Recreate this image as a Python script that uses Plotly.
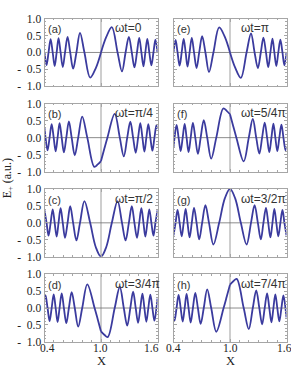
import plotly.graph_objects as go

# ---------------- data ----------------
PANEL_LETTERS = ["(a)", "(b)", "(c)", "(d)", "(e)", "(f)", "(g)", "(h)"]
PHASE_LABELS = ["ωt=0", "ωt=π/4", "ωt=π/2", "ωt=3/4π",
                "ωt=π", "ωt=5/4π", "ωt=3/2π", "ωt=7/4π"]

X_TICKS = [0.4, 1.0, 1.6]
X_TICKTEXT = ["0.4", "1.0", "1.6"]
Y_TICKS = [-1.0, -0.5, 0.0, 0.5, 1.0]
Y_TICKTEXT = ["-\u00a0\u00a01.0", "-\u00a0\u00a00.5", "0.0", "0.5", "1.0"]

# sample positions for panels a, c, e, g
X_AC = [0.400, 0.422, 0.443, 0.465, 0.487, 0.508, 0.529, 0.549, 0.571, 0.594,
        0.618, 0.645, 0.673, 0.704, 0.739, 0.777, 0.824, 0.885, 0.945, 1.000,
        1.055, 1.115, 1.176, 1.223, 1.261, 1.296, 1.327, 1.355, 1.382, 1.406,
        1.429, 1.451, 1.471, 1.492, 1.513, 1.535, 1.557, 1.578, 1.600]
# sample positions for panels b, f
X_BF = [0.400, 0.411, 0.4325, 0.454, 0.476, 0.4975, 0.5185, 0.539, 0.560, 0.5825,
        0.606, 0.6315, 0.659, 0.6885, 0.7215, 0.758, 0.8005, 0.8545, 0.929, 0.965,
        1.000, 1.035, 1.068, 1.1455, 1.1995, 1.242, 1.2785, 1.3115, 1.341, 1.3685,
        1.394, 1.4175, 1.440, 1.461, 1.4815, 1.5025, 1.524, 1.546, 1.5675, 1.589, 1.600]
# sample positions for panels d, h
X_DH = [0.400, 0.411, 0.4325, 0.454, 0.476, 0.4975, 0.5185, 0.539, 0.560, 0.5825,
        0.606, 0.6315, 0.659, 0.6885, 0.7215, 0.758, 0.8005, 0.8545, 0.932, 0.965,
        1.000, 1.035, 1.071, 1.1455, 1.1995, 1.242, 1.2785, 1.3115, 1.341, 1.3685,
        1.394, 1.4175, 1.440, 1.461, 1.4815, 1.5025, 1.524, 1.546, 1.5675, 1.589, 1.600]

Y_A = [0.0, -0.37, 0.0, 0.39, 0.0, -0.40, 0.0, 0.42, 0.0, -0.43,
       0.0, 0.46, 0.0, -0.48, 0.0, 0.58, 0.0, -0.74, -0.46, 0.0,
       0.45, 0.75, 0.0, -0.56, 0.0, 0.46, 0.0, -0.44, 0.0, 0.43,
       0.0, -0.41, 0.0, 0.40, 0.0, -0.38, 0.0, 0.38, 0.0]
Y_E = [0.0, 0.37, 0.0, -0.39, 0.0, 0.40, 0.0, -0.42, 0.0, 0.43,
       0.0, -0.46, 0.0, 0.48, 0.0, -0.58, 0.0, 0.74, 0.46, 0.0,
       -0.45, -0.75, 0.0, 0.56, 0.0, -0.46, 0.0, 0.44, 0.0, -0.43,
       0.0, 0.41, 0.0, -0.40, 0.0, 0.38, 0.0, -0.38, 0.0]
Y_C = [0.37, 0.0, -0.38, 0.0, 0.40, 0.0, -0.41, 0.0, 0.43, 0.0,
       -0.44, 0.0, 0.49, 0.0, -0.52, 0.0, 0.64, 0.0, -0.72, -1.0,
       -0.72, 0.0, 0.64, 0.0, -0.52, 0.0, 0.49, 0.0, -0.44, 0.0,
       0.43, 0.0, -0.41, 0.0, 0.40, 0.0, -0.38, 0.0, 0.37]
Y_G = [-0.37, 0.0, 0.38, 0.0, -0.40, 0.0, 0.41, 0.0, -0.43, 0.0,
       0.44, 0.0, -0.49, 0.0, 0.52, 0.0, -0.64, 0.0, 0.72, 1.0,
       0.72, 0.0, -0.64, 0.0, 0.52, 0.0, -0.49, 0.0, 0.44, 0.0,
       -0.43, 0.0, 0.41, 0.0, -0.40, 0.0, 0.38, 0.0, -0.37]
Y_B = [0.28, 0.0, -0.375, 0.0, 0.395, 0.0, -0.405, 0.0, 0.425, 0.0,
       -0.435, 0.0, 0.48, 0.0, -0.52, 0.0, 0.62, 0.0, -0.86, -0.79,
       -0.69, -0.33, 0.0, 0.70, 0.0, -0.55, 0.0, 0.47, 0.0, -0.445,
       0.0, 0.43, 0.0, -0.415, 0.0, 0.40, 0.0, -0.385, 0.0, 0.37, 0.26]
Y_F = [-0.28, 0.0, 0.375, 0.0, -0.395, 0.0, 0.405, 0.0, -0.425, 0.0,
       0.435, 0.0, -0.48, 0.0, 0.52, 0.0, -0.62, 0.0, 0.86, 0.79,
       0.69, 0.33, 0.0, -0.70, 0.0, 0.55, 0.0, -0.47, 0.0, 0.445,
       0.0, -0.43, 0.0, 0.415, 0.0, -0.40, 0.0, 0.385, 0.0, -0.37, -0.26]
Y_D = [0.26, 0.37, 0.0, -0.385, 0.0, 0.40, 0.0, -0.415, 0.0, 0.43,
       0.0, -0.445, 0.0, 0.47, 0.0, -0.55, 0.0, 0.70, 0.0, -0.33,
       -0.69, -0.79, -0.86, 0.0, 0.62, 0.0, -0.52, 0.0, 0.48, 0.0,
       -0.435, 0.0, 0.425, 0.0, -0.405, 0.0, 0.395, 0.0, -0.375, 0.0, 0.28]
Y_H = [-0.26, -0.37, 0.0, 0.385, 0.0, -0.40, 0.0, 0.415, 0.0, -0.43,
       0.0, 0.445, 0.0, -0.47, 0.0, 0.55, 0.0, -0.70, 0.0, 0.33,
       0.69, 0.79, 0.86, 0.0, -0.62, 0.0, 0.52, 0.0, -0.48, 0.0,
       0.435, 0.0, -0.425, 0.0, 0.405, 0.0, -0.395, 0.0, 0.375, 0.0, -0.28]

# (x, y, split at interface x=1) for panels a..h
SERIES = [(X_AC, Y_A, True), (X_BF, Y_B, True), (X_AC, Y_C, False), (X_DH, Y_D, True),
          (X_AC, Y_E, True), (X_BF, Y_F, True), (X_AC, Y_G, False), (X_DH, Y_H, True)]

# ---------------- layout geometry (pixels) ----------------
W, H = 291, 375
COL_X = [(44.5, 157.5), (173.5, 286.5)]
ROW_TOP = [13, 101, 189, 277]
PANEL_H = 70
LINE_COLOR = "#3b3b9e"
FRAME = "#a6a6a6"
SERIF = "Liberation Serif"
SANS = "Liberation Sans"
# bottom tick-label centres (pixels) for each column, as placed in the reference
XLABEL_PX = [(47.5, 100.5, 151.0), (173.5, 230.0, 284.0)]


def px(xp):
    return xp / W


def py(yp):
    return 1 - yp / H


fig = go.Figure()
layout = dict(width=W, height=H, margin=dict(l=0, r=0, t=0, b=0),
              paper_bgcolor="white", plot_bgcolor="white", showlegend=False)
shapes, annotations = [], []

for i in range(8):
    col, row = divmod(i, 4)
    n = i + 1
    sx = "" if n == 1 else str(n)
    xs, ys, split = SERIES[i]
    if split:
        segs = [([x for x in xs if x <= 1.0], [y for x, y in zip(xs, ys) if x <= 1.0]),
                ([x for x in xs if x >= 1.0], [y for x, y in zip(xs, ys) if x >= 1.0])]
    else:
        segs = [(xs, ys)]
    for sxs, sys_ in segs:
        fig.add_trace(go.Scatter(x=sxs, y=sys_, mode="lines",
                                 line=dict(color=LINE_COLOR, width=1.8, shape="spline", smoothing=1.0),
                                 xaxis="x" + sx, yaxis="y" + sx, hoverinfo="skip"))
    x0, x1 = COL_X[col]
    top = ROW_TOP[row]
    bottom = top + PANEL_H
    layout["xaxis" + sx] = dict(
        domain=[px(x0), px(x1)], anchor="y" + sx, range=[0.4, 1.6],
        tickmode="array", tickvals=X_TICKS, ticktext=X_TICKTEXT,
        showticklabels=False, ticks="inside", ticklen=3, tickcolor=FRAME,
        minor=dict(ticks="inside", ticklen=1.5, tickcolor=FRAME,
                   tickvals=[0.5, 0.6, 0.7, 0.8, 0.9, 1.1, 1.2, 1.3, 1.4, 1.5]),
        showline=True, linecolor=FRAME, linewidth=1, mirror="allticks",
        showgrid=False, zeroline=False)
    layout["yaxis" + sx] = dict(
        domain=[py(bottom), py(top)], anchor="x" + sx, range=[-1.0, 1.0],
        tickmode="array", tickvals=Y_TICKS, ticktext=Y_TICKTEXT,
        showticklabels=(col == 0), ticks="inside", ticklen=3, tickcolor=FRAME,
        minor=dict(ticks="inside", ticklen=1.5, tickcolor=FRAME,
                   tickvals=[-0.9, -0.8, -0.7, -0.6, -0.4, -0.3, -0.2, -0.1,
                             0.1, 0.2, 0.3, 0.4, 0.6, 0.7, 0.8, 0.9]),
        showline=True, linecolor=FRAME, linewidth=1, mirror="allticks",
        showgrid=False, zeroline=False,
        tickfont=dict(family=SERIF, size=11.5, color="#222"))
    # interface line x = 1 and zero line y = 0
    shapes.append(dict(type="line", xref="x" + sx, yref="y" + sx + " domain",
                       x0=1.0, x1=1.0, y0=0, y1=1, layer="below",
                       line=dict(color="#b4b4b4", width=1.3)))
    shapes.append(dict(type="line", xref="x" + sx + " domain", yref="y" + sx,
                       x0=0, x1=1, y0=0, y1=0, layer="below",
                       line=dict(color="#6e6e6e", width=0.8)))
    annotations.append(dict(text=PANEL_LETTERS[i], xref="paper", yref="paper",
                            x=px(x0 + 1), y=py(top + 11), xanchor="left", yanchor="middle",
                            showarrow=False, font=dict(family=SANS, size=11, color="#333")))
    lx = 113 if col == 0 else 238.5
    annotations.append(dict(text=PHASE_LABELS[i], xref="paper", yref="paper",
                            x=px(lx), y=py(top + 10), xanchor="left", yanchor="middle",
                            showarrow=False, font=dict(family=SANS, size=12, color="#333")))
    if row == 3:
        for txt, cxp in zip(X_TICKTEXT, XLABEL_PX[col]):
            annotations.append(dict(text=txt, xref="paper", yref="paper",
                                    x=px(cxp), y=py(353), xanchor="center", yanchor="middle",
                                    showarrow=False, borderpad=0,
                                    font=dict(family=SERIF, size=11.5, color="#222")))

for cx in (101, 230):
    annotations.append(dict(text="X", xref="paper", yref="paper", x=px(cx), y=py(367),
                            xanchor="center", yanchor="middle", showarrow=False, borderpad=0,
                            font=dict(family=SERIF, size=12.5, color="#222")))
annotations.append(dict(text="E<sub>+</sub> (a.u.)", xref="paper", yref="paper",
                        x=px(8), y=py(178), xanchor="center", yanchor="middle",
                        textangle=-90, showarrow=False,
                        font=dict(family=SERIF, size=12, color="#222")))

layout["shapes"] = shapes
layout["annotations"] = annotations
fig.update_layout(**layout)
fig.write_html("out.html", config={"displayModeBar": False},
               post_script="document.body.style.margin='0px';document.body.style.overflow='hidden';")
